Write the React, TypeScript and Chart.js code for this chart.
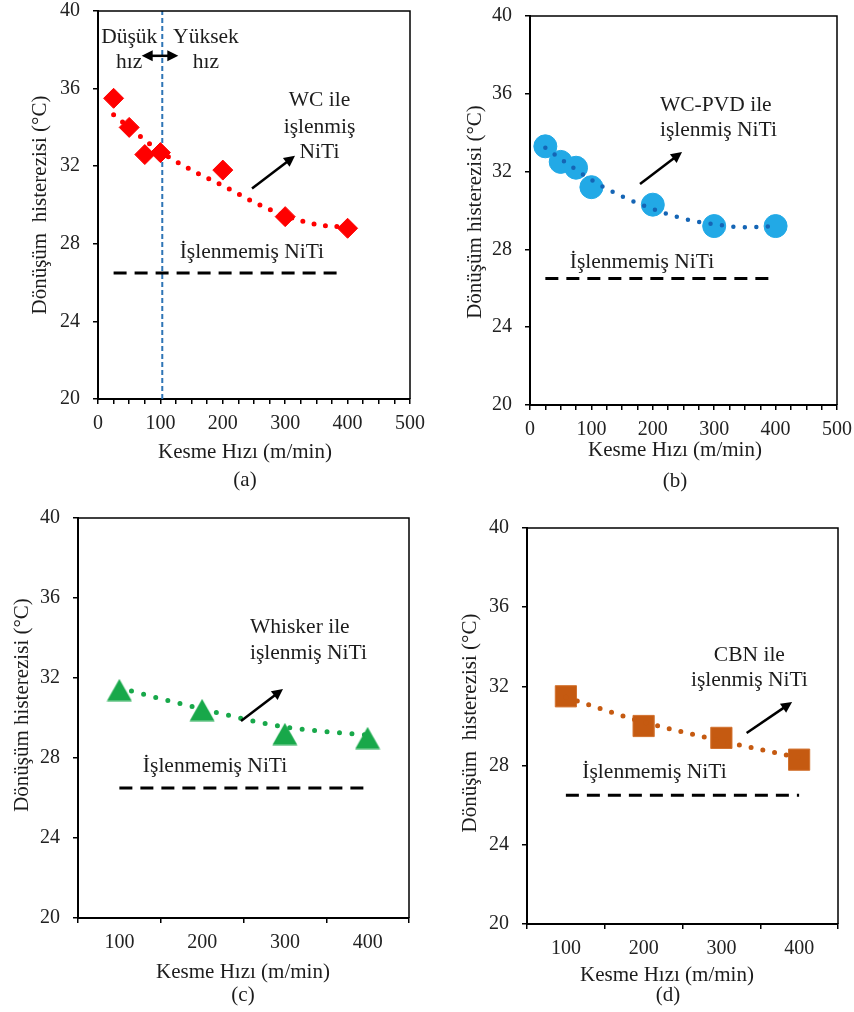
import React, { useEffect, useRef } from 'react';
import { Chart, registerables } from 'chart.js';

Chart.register(...registerables);

const SERIF = "'Liberation Serif', 'Times New Roman', serif";

// ---------- data ----------
const speedsAB = [25, 50, 75, 100, 200, 300, 400];
const wcHysteresis = [35.5, 34.0, 32.6, 32.7, 31.8, 29.4, 28.8];
const pvdHysteresis = [33.3, 32.5, 32.2, 31.2, 30.3, 29.2, 29.2];
const trendSpeedsAB = [25, 50, 75, 100, 150, 200, 250, 300, 350, 400];
const wcTrend = [34.65, 34.0, 33.35, 32.75, 31.8, 31.0, 30.15, 29.45, 29.0, 28.85];
const pvdTrend = [33.23, 32.65, 32.1, 31.57, 30.72, 30.08, 29.58, 29.29, 29.14, 29.2];

const speedsCD = ['100', '200', '300', '400'];
const whiskerHysteresis = [31.4, 30.4, 29.2, 29.0];
const whiskerTrend = [31.5, 30.45, 29.55, 29.15];
const cbnHysteresis = [31.5, 30.0, 29.4, 28.3];
const cbnTrend = [31.45, 30.2, 29.25, 28.4];

const untreatedNiTi = 26.5;
const untreatedSpanA = [25, 390];
const untreatedSpanB = [25, 392];
const speedBoundary = 103;

const yTicks = [20, 24, 28, 32, 36, 40];
const xTicksAB = [0, 25, 50, 75, 100, 125, 150, 175, 200, 225, 250, 275, 300, 325, 350, 375, 400, 425, 450, 475, 500];
const xLabelsAB = [0, 100, 200, 300, 400, 500];

const Y_TITLE_2 = 'Dönüşüm  histerezisi (°C)';
const Y_TITLE_1 = 'Dönüşüm histerezisi (°C)';
const X_TITLE = 'Kesme Hızı (m/min)';

// ---------- helpers ----------
const tickFont = { family: SERIF, size: 20, lineHeight: 1 };
const xTickFont = { family: SERIF, size: 20, lineHeight: 1.2 };
const TEXT = '#1c1c1c';
const TICK_TEXT = '#222';

function clearPadding(s: any) {
  s.paddingTop = 0;
  s.paddingBottom = 0;
  s.paddingLeft = 0;
  s.paddingRight = 0;
}

function yScale(L: number) {
  return {
    type: 'linear',
    min: yTicks[0],
    max: yTicks[yTicks.length - 1],
    afterBuildTicks: (s: any) => { s.ticks = yTicks.map((v) => ({ value: v })); },
    afterFit: (s: any) => { s.width = L; clearPadding(s); },
    ticks: { font: tickFont, color: TICK_TEXT, padding: 13 },
    grid: { drawOnChartArea: false, drawTicks: true, tickLength: 5, color: '#000', lineWidth: 1.5 },
    border: { color: '#000', width: 2 },
  };
}

function xLinearScale(xh: number) {
  return {
    type: 'linear',
    min: 0,
    max: 500,
    afterBuildTicks: (s: any) => { s.ticks = xTicksAB.map((v) => ({ value: v })); },
    afterFit: (s: any) => { s.height = xh; clearPadding(s); },
    ticks: {
      autoSkip: false,
      maxRotation: 0,
      font: xTickFont,
      color: TICK_TEXT,
      padding: 8,
      callback: (v: any) => (xLabelsAB.includes(Number(v)) ? String(v) : ''),
    },
    grid: { drawOnChartArea: false, drawTicks: true, tickLength: 5, color: '#000', lineWidth: 1.5 },
    border: { color: '#000', width: 2 },
  };
}

function xCategoryScale(xh: number) {
  return {
    type: 'category',
    offset: true,
    afterFit: (s: any) => { s.height = xh; clearPadding(s); },
    ticks: { autoSkip: false, maxRotation: 0, font: xTickFont, color: TICK_TEXT, padding: 8 },
    grid: { offset: true, drawOnChartArea: false, drawTicks: true, tickLength: 5, color: '#000', lineWidth: 1.5 },
    border: { color: '#000', width: 2 },
  };
}

function drawArrow(ctx: CanvasRenderingContext2D, x1: number, y1: number, x2: number, y2: number, double: boolean) {
  const ang = Math.atan2(y2 - y1, x2 - x1);
  const hl = 11;
  const hw = 5.5;
  const head = (x: number, y: number, a: number) => {
    ctx.beginPath();
    ctx.moveTo(x, y);
    ctx.lineTo(x - hl * Math.cos(a) + hw * Math.sin(a), y - hl * Math.sin(a) - hw * Math.cos(a));
    ctx.lineTo(x - hl * Math.cos(a) - hw * Math.sin(a), y - hl * Math.sin(a) + hw * Math.cos(a));
    ctx.closePath();
    ctx.fill();
  };
  ctx.beginPath();
  const sx = double ? x1 + (hl - 2) * Math.cos(ang) : x1;
  const sy = double ? y1 + (hl - 2) * Math.sin(ang) : y1;
  ctx.moveTo(sx, sy);
  ctx.lineTo(x2 - (hl - 2) * Math.cos(ang), y2 - (hl - 2) * Math.sin(ang));
  ctx.stroke();
  head(x2, y2, ang);
  if (double) head(x1, y1, ang + Math.PI);
}

const decorPlugin = {
  id: 'panelDecor',
  afterDraw(chart: any, _args: any, opts: any) {
    const { ctx, chartArea } = chart;
    const xs = chart.scales.x;
    const ys = chart.scales.y;
    ctx.save();
    // top & right frame
    ctx.strokeStyle = '#000';
    ctx.lineWidth = 1.5;
    ctx.beginPath();
    ctx.moveTo(chartArea.left, chartArea.top);
    ctx.lineTo(chartArea.right, chartArea.top);
    ctx.lineTo(chartArea.right, chartArea.bottom);
    ctx.stroke();

    ctx.fillStyle = TEXT;
    ctx.font = `21.5px ${SERIF}`;
    ctx.textBaseline = 'middle';
    (opts.texts || []).forEach((t: any) => {
      ctx.textAlign = t.align || 'center';
      ctx.fillText(t.text, xs.getPixelForValue(t.x), ys.getPixelForValue(t.y));
    });

    ctx.strokeStyle = '#000';
    ctx.fillStyle = '#000';
    ctx.lineWidth = 2.5;
    (opts.arrows || []).forEach((a: any) => {
      drawArrow(
        ctx,
        xs.getPixelForValue(a.x1), ys.getPixelForValue(a.y1),
        xs.getPixelForValue(a.x2), ys.getPixelForValue(a.y2),
        !!a.double,
      );
    });

    ctx.fillStyle = TEXT;
    ctx.font = `21px ${SERIF}`;
    ctx.textAlign = 'center';
    ctx.textBaseline = 'middle';
    if (opts.xTitle) ctx.fillText(opts.xTitle.text, opts.xTitle.cx, opts.xTitle.cy);
    if (opts.label) ctx.fillText(opts.label.text, opts.label.cx, opts.label.cy);
    if (opts.yTitle) {
      ctx.save();
      ctx.translate(opts.yTitle.cx, opts.yTitle.cy);
      ctx.rotate(-Math.PI / 2);
      ctx.fillText(opts.yTitle.text, 0, 0);
      ctx.restore();
    }
    ctx.restore();
  },
};

function baseOptions(W: number, H: number, area: { L: number; T: number; R: number; B: number }, xScale: any, decor: any) {
  return {
    responsive: false,
    animation: false,
    events: [],
    layout: { padding: { left: 0, top: area.T, right: W - area.R, bottom: 0 } },
    scales: { x: xScale, y: yScale(area.L) },
    plugins: { legend: { display: false }, tooltip: { enabled: false }, panelDecor: decor },
  };
}

function trendDataset(data: any[], color: string, width: number, gap: number) {
  return {
    data,
    borderColor: color,
    borderWidth: width,
    borderDash: [0, gap],
    borderCapStyle: 'round',
    pointRadius: 0,
    cubicInterpolationMode: 'monotone',
    fill: false,
  };
}

function untreatedDataset(data: any[]) {
  return {
    data,
    borderColor: '#000',
    borderWidth: 3,
    borderDash: [13, 8],
    pointRadius: 0,
    fill: false,
  };
}

function makeTriangle(color: string, w: number, h: number) {
  const c = document.createElement('canvas');
  c.width = w;
  c.height = h;
  const g = c.getContext('2d')!;
  g.fillStyle = color;
  g.beginPath();
  g.moveTo(w / 2, 0.5);
  g.lineTo(w - 0.5, h - 0.5);
  g.lineTo(0.5, h - 0.5);
  g.closePath();
  g.fill();
  return c;
}

// ---------- panel configs ----------
const W = 427;

function buildA() {
  const H = 500;
  const area = { L: 98, T: 10, R: 410, B: 399 };
  const red = '#FF0000';
  return {
    type: 'line',
    data: {
      datasets: [
        trendDataset(trendSpeedsAB.map((x, i) => ({ x, y: wcTrend[i] })), red, 5, 11.5),
        {
          data: speedsAB.map((x, i) => ({ x, y: wcHysteresis[i] })),
          showLine: false,
          pointStyle: 'rectRot',
          pointRadius: 10,
          pointBackgroundColor: red,
          pointBorderColor: red,
          pointBorderWidth: 1,
        },
        untreatedDataset(untreatedSpanA.map((x) => ({ x, y: untreatedNiTi }))),
        {
          data: [{ x: speedBoundary, y: yTicks[0] }, { x: speedBoundary, y: yTicks[yTicks.length - 1] }],
          borderColor: '#2E75B6',
          borderWidth: 2,
          borderDash: [5, 3],
          pointRadius: 0,
          fill: false,
        },
      ],
    },
    options: baseOptions(W, H, area, xLinearScale(H - area.B), {
      texts: [
        { x: 50, y: 38.63, text: 'Düşük' },
        { x: 50, y: 37.34, text: 'hız' },
        { x: 173, y: 38.63, text: 'Yüksek' },
        { x: 173, y: 37.34, text: 'hız' },
        { x: 355, y: 35.37, text: 'WC ile' },
        { x: 355, y: 34.0, text: 'işlenmiş' },
        { x: 355, y: 32.71, text: 'NiTi' },
        { x: 246.5, y: 27.55, text: 'İşlenmemiş NiTi' },
      ],
      arrows: [
        { x1: 70, y1: 37.69, x2: 128.7, y2: 37.69, double: true },
        { x1: 246.8, y1: 30.85, x2: 315.7, y2: 32.54 },
      ],
      yTitle: { text: Y_TITLE_2, cx: 40, cy: 205 },
      xTitle: { text: X_TITLE, cx: 245, cy: 452 },
      label: { text: '(a)', cx: 245, cy: 480 },
    }),
    plugins: [decorPlugin],
  };
}

function buildB() {
  const H = 500;
  const area = { L: 103, T: 16, R: 410, B: 405 };
  const light = '#22A9E6';
  const dark = '#1565B5';
  return {
    type: 'line',
    data: {
      datasets: [
        trendDataset(trendSpeedsAB.map((x, i) => ({ x, y: pvdTrend[i] })), dark, 4.5, 11.5),
        {
          data: speedsAB.map((x, i) => ({ x, y: pvdHysteresis[i] })),
          showLine: false,
          pointStyle: 'circle',
          pointRadius: 11.5,
          pointBackgroundColor: light,
          pointBorderColor: light,
          pointBorderWidth: 1,
        },
        untreatedDataset(untreatedSpanB.map((x) => ({ x, y: untreatedNiTi }))),
      ],
    },
    options: baseOptions(W, H, area, xLinearScale(H - area.B), {
      texts: [
        { x: 211.7, y: 35.42, text: 'WC-PVD ile', align: 'left' },
        { x: 211.7, y: 34.14, text: 'işlenmiş NiTi', align: 'left' },
        { x: 182.4, y: 27.35, text: 'İşlenmemiş NiTi' },
      ],
      arrows: [{ x1: 179.2, y1: 31.36, x2: 247.6, y2: 33.01 }],
      yTitle: { text: Y_TITLE_1, cx: 48, cy: 212 },
      xTitle: { text: X_TITLE, cx: 248, cy: 450 },
      label: { text: '(b)', cx: 248, cy: 481 },
    }),
    plugins: [decorPlugin],
  };
}

function buildC() {
  const H = 512;
  const area = { L: 78, T: 18, R: 409, B: 418 };
  const green = '#18A84A';
  return {
    type: 'line',
    data: {
      labels: speedsCD,
      datasets: [
        trendDataset(whiskerTrend, green, 5, 12.5),
        {
          data: whiskerHysteresis,
          showLine: false,
          pointStyle: makeTriangle(green, 26, 23),
          pointRadius: 12,
        },
        untreatedDataset(speedsCD.map(() => untreatedNiTi)),
      ],
    },
    options: baseOptions(W, H, area, xCategoryScale(H - area.B), {
      texts: [
        { x: 1.578, y: 34.55, text: 'Whisker ile', align: 'left' },
        { x: 1.578, y: 33.25, text: 'işlenmiş NiTi', align: 'left' },
        { x: 1.156, y: 27.6, text: 'İşlenmemiş NiTi' },
      ],
      arrows: [{ x1: 1.47, y1: 29.85, x2: 1.977, y2: 31.45 }],
      yTitle: { text: Y_TITLE_1, cx: 22, cy: 205 },
      xTitle: { text: X_TITLE, cx: 243, cy: 472 },
      label: { text: '(c)', cx: 243, cy: 495 },
    }),
    plugins: [decorPlugin],
  };
}

function buildD() {
  const H = 512;
  const area = { L: 100, T: 28, R: 420, B: 424 };
  const orange = '#C55A11';
  return {
    type: 'line',
    data: {
      labels: speedsCD,
      datasets: [
        trendDataset(cbnTrend, orange, 5, 12),
        {
          data: cbnHysteresis,
          showLine: false,
          pointStyle: 'rect',
          pointRadius: 15,
          pointBackgroundColor: orange,
          pointBorderColor: '#D2722F',
          pointBorderWidth: 1,
        },
        untreatedDataset(speedsCD.map(() => untreatedNiTi)),
      ],
    },
    options: baseOptions(W, H, area, xCategoryScale(H - area.B), {
      texts: [
        { x: 2.36, y: 33.59, text: 'CBN ile' },
        { x: 2.36, y: 32.32, text: 'işlenmiş NiTi' },
        { x: 1.14, y: 27.64, text: 'İşlenmemiş NiTi' },
      ],
      arrows: [{ x1: 2.325, y1: 29.65, x2: 2.91, y2: 31.21 }],
      yTitle: { text: Y_TITLE_2, cx: 43, cy: 223 },
      xTitle: { text: X_TITLE, cx: 240, cy: 475 },
      label: { text: '(d)', cx: 241, cy: 495 },
    }),
    plugins: [decorPlugin],
  };
}

function Panel({ left, top, width, height, build }: { left: number; top: number; width: number; height: number; build: () => any }) {
  const ref = useRef<HTMLCanvasElement>(null);
  useEffect(() => {
    const chart = new Chart(ref.current as HTMLCanvasElement, build());
    return () => chart.destroy();
  }, [build]);
  return (
    <div style={{ position: 'absolute', left, top, width, height }}>
      <canvas ref={ref} width={width} height={height} style={{ width, height, display: 'block' }} />
    </div>
  );
}

export default function App() {
  return (
    <div style={{ position: 'absolute', left: 0, top: 0, width: 854, height: 1012, background: '#fff', overflow: 'hidden' }}>
      <Panel left={0} top={0} width={427} height={500} build={buildA} />
      <Panel left={427} top={0} width={427} height={500} build={buildB} />
      <Panel left={0} top={500} width={427} height={512} build={buildC} />
      <Panel left={427} top={500} width={427} height={512} build={buildD} />
    </div>
  );
}
